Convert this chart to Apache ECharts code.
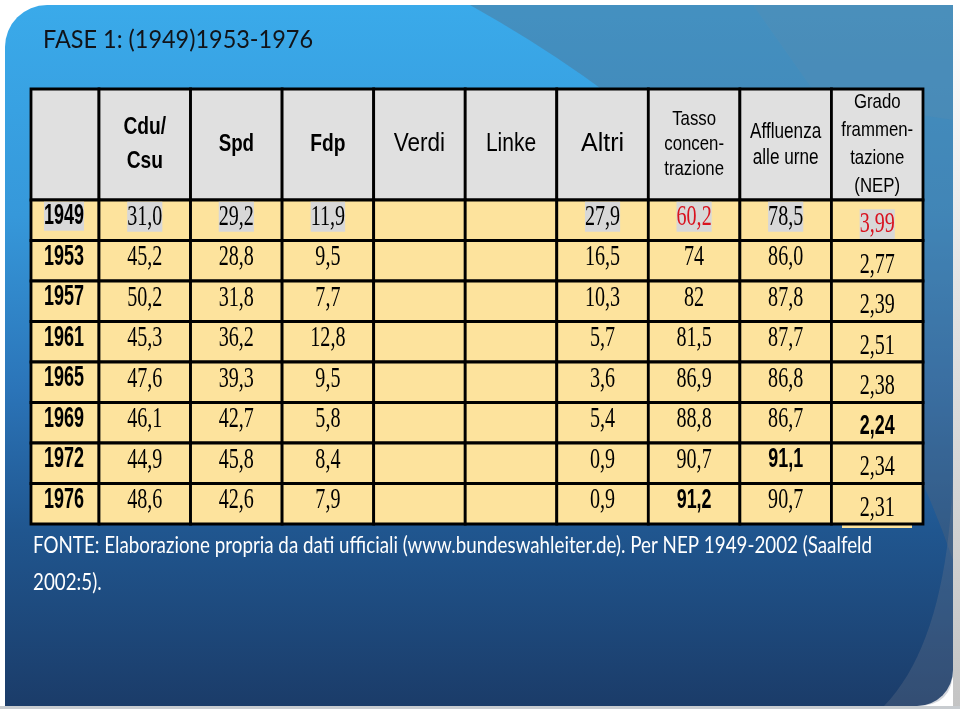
<!DOCTYPE html>
<html>
<head>
<meta charset="utf-8">
<script src="https://cdn.jsdelivr.net/npm/echarts/dist/echarts.min.js"></script>
<style>
html,body{margin:0;padding:0;background:#ffffff;}
#chart{width:960px;height:709px;}
</style>
</head>
<body>
<div id="chart"></div>
<script>
// ---------------- DATA ----------------
const title = 'FASE 1: (1949)1953-1976';
const years = ['1949', '1953', '1957', '1961', '1965', '1969', '1972', '1976'];
const headers = ['Cdu/\nCsu', 'Spd', 'Fdp', 'Verdi', 'Linke', 'Altri',
  'Tasso\nconcen-\ntrazione', 'Affluenza\nalle urne', 'Grado\nframmen-\ntazione\n(NEP)'];
const cduCsu = [31.0, 45.2, 50.2, 45.3, 47.6, 46.1, 44.9, 48.6];
const spd = [29.2, 28.8, 31.8, 36.2, 39.3, 42.7, 45.8, 42.6];
const fdp = [11.9, 9.5, 7.7, 12.8, 9.5, 5.8, 8.4, 7.9];
const verdi = [null, null, null, null, null, null, null, null];
const linke = [null, null, null, null, null, null, null, null];
const altri = [27.9, 16.5, 10.3, 5.7, 3.6, 5.4, 0.9, 0.9];
const tassoConcentrazione = [60.2, 74, 82, 81.5, 86.9, 88.8, 90.7, 91.2];
const affluenzaUrne = [78.5, 86.0, 87.8, 87.7, 86.8, 86.7, 91.1, 90.7];
const nep = [3.99, 2.77, 2.39, 2.51, 2.38, 2.24, 2.34, 2.31];
const footer = 'FONTE: Elaborazione propria da dati ufficiali (www.bundeswahleiter.de). Per NEP 1949-2002 (Saalfeld';
const footer2 = '2002:5).';

// ---------------- FORMATTING / STYLE ----------------
const columnsData = [cduCsu, spd, fdp, verdi, linke, altri, tassoConcentrazione, affluenzaUrne, nep];
const decimals = [1, 1, 1, 1, 1, 1, -1, 1, 2];  // -1: as is
function fmt(v, d) {
  if (v === null || v === undefined) return '';
  const s = d < 0 ? String(v) : v.toFixed(d);
  return s.replace('.', ',');
}
const redCells = ['0-6', '0-8'];
const boldCells = ['5-8', '6-7', '7-6'];
const highlightRow = 0;

const CELL = '#fde39d';
const HEAD = '#e0e0e0';
const LINE = '#000000';
const LW = 2.8;

const headerStyle = [
  {size: 24, lh: 34, sx: 0.8, w: 'bold'},
  {size: 24, lh: 28, sx: 0.78, w: 'bold'},
  {size: 24, lh: 28, sx: 0.8, w: 'bold'},
  {size: 25, lh: 28, sx: 0.9, w: 'normal'},
  {size: 25, lh: 28, sx: 0.84, w: 'normal'},
  {size: 25, lh: 28, sx: 1.0, w: 'normal'},
  {size: 21, lh: 25, sx: 0.8, w: 'normal'},
  {size: 22, lh: 26, sx: 0.78, w: 'normal'},
  {size: 21, lh: 28, sx: 0.8, w: 'normal'}
];

// ---------------- CELLS ----------------
const dataCells = [];
for (let c = 0; c < headers.length; c++) {
  for (let r = 0; r < years.length; r++) {
    dataCells.push({value: [c, r], text: fmt(columnsData[c][r], decimals[c]), r: r, c: c});
  }
}
const yearCells = years.map((y, r) => ({value: [0, r], text: y, r: r}));
const headerCells = headers.map((h, c) => ({value: [c, 0], text: h, c: c}));

function cellRect(p, s, fill) {
  return {type: 'rect', shape: {x: p[0] - s[0] / 2, y: p[1] - s[1] / 2, width: s[0], height: s[1]},
    style: {fill: fill, stroke: LINE, lineWidth: LW}};
}

function renderData(params, api) {
  const cell = dataCells[params.dataIndex];
  const p = api.coord([api.value(0), api.value(1)]);
  const s = api.size([1, 1]);
  const children = [cellRect(p, s, CELL)];
  if (cell.text) {
    const key = cell.r + '-' + cell.c;
    const bold = boldCells.indexOf(key) >= 0;
    const red = redCells.indexOf(key) >= 0;
    const dy = cell.c === 8 ? 4 : -3.5;
    const st = {
      text: cell.text, x: 0, y: 0,
      fill: red ? '#d9121f' : '#000',
      fontFamily: bold ? 'Liberation Sans' : 'Liberation Serif',
      fontWeight: bold ? 'bold' : 'normal',
      fontSize: bold ? 28 : 30,
      align: 'center', verticalAlign: 'middle'
    };
    if (cell.r === highlightRow) { st.backgroundColor = '#d8d8d8'; st.padding = [0, 0, 0, 0]; }
    children.push({type: 'text', x: p[0], y: p[1] + dy, scaleX: bold ? 0.64 : 0.67, style: st});
  }
  return {type: 'group', children: children};
}

function renderYear(params, api) {
  const cell = yearCells[params.dataIndex];
  const p = api.coord([api.value(0), api.value(1)]);
  const s = api.size([1, 1]);
  const st = {text: cell.text, x: 0, y: 0, fill: '#000', fontFamily: 'Liberation Sans', fontWeight: 'bold',
    fontSize: 29, align: 'center', verticalAlign: 'middle'};
  if (cell.r === highlightRow) { st.backgroundColor = '#d8d8d8'; st.padding = [0, 0, 0, 0]; }
  return {type: 'group', children: [cellRect(p, s, CELL),
    {type: 'text', x: p[0] - 1, y: p[1] - 4, scaleX: 0.62, style: st}]};
}

function renderHeader(params, api) {
  const cell = headerCells[params.dataIndex];
  const hs = headerStyle[cell.c];
  const p = api.coord([api.value(0), api.value(1)]);
  const s = api.size([1, 1]);
  return {type: 'group', children: [cellRect(p, s, HEAD),
    {type: 'text', x: p[0], y: p[1], scaleX: hs.sx, style: {text: cell.text, x: 0, y: 0, fill: '#000',
      fontFamily: 'Liberation Sans', fontWeight: hs.w, fontSize: hs.size, lineHeight: hs.lh,
      align: 'center', verticalAlign: 'middle'}}]};
}

function renderCorner(params, api) {
  const p = api.coord([api.value(0), api.value(1)]);
  const s = api.size([1, 1]);
  return cellRect(p, s, HEAD);
}

function fitScale(text, font, target) {
  const ctx = document.createElement('canvas').getContext('2d');
  ctx.font = font;
  return target / ctx.measureText(text).width;
}
const titleFont = '25px Lato';
const footFont = '24px Lato';
const titleSx = fitScale(title, titleFont, 270);
const footSx = fitScale(footer, footFont, 839);

function quadPts(p0, p1, p2, n) {
  const pts = [];
  for (let i = 0; i <= n; i++) {
    const t = i / n;
    pts.push([(1 - t) * (1 - t) * p0[0] + 2 * (1 - t) * t * p1[0] + t * t * p2[0],
      (1 - t) * (1 - t) * p0[1] + 2 * (1 - t) * t * p1[1] + t * t * p2[1]]);
  }
  return pts;
}
const crescent = quadPts([953, 470], [948, 640], [884, 706], 20)
  .concat(quadPts([917, 706], [953, 706], [953, 670], 8));
const steel = [[470, 5], [953, 5], [953, 560]].concat(quadPts([953, 560], [830, 205], [470, 5], 24));

// ---------------- CHART ----------------
const chart = echarts.init(document.getElementById('chart'), null, {renderer: 'canvas'});
const hiddenAxis = {show: false};
const option = {
  animation: false,
  backgroundColor: '#ffffff',
  grid: [
    {left: 31, top: 89, width: 68, height: 111, outerBoundsMode: 'none'},
    {left: 99, top: 89, width: 824, height: 111, outerBoundsMode: 'none'},
    {left: 31, top: 200, width: 68, height: 324, outerBoundsMode: 'none'},
    {left: 99, top: 200, width: 824, height: 324, outerBoundsMode: 'none'}
  ],
  xAxis: [
    Object.assign({type: 'category', gridIndex: 0, data: ['']}, hiddenAxis),
    Object.assign({type: 'category', gridIndex: 1, data: headers}, hiddenAxis),
    Object.assign({type: 'category', gridIndex: 2, data: ['anno']}, hiddenAxis),
    Object.assign({type: 'category', gridIndex: 3, data: headers}, hiddenAxis)
  ],
  yAxis: [
    Object.assign({type: 'category', gridIndex: 0, data: ['h']}, hiddenAxis),
    Object.assign({type: 'category', gridIndex: 1, data: ['h']}, hiddenAxis),
    Object.assign({type: 'category', gridIndex: 2, data: years, inverse: true}, hiddenAxis),
    Object.assign({type: 'category', gridIndex: 3, data: years, inverse: true}, hiddenAxis)
  ],
  graphic: [
    {type: 'rect', z: 0, shape: {x: 953, y: 0, width: 7, height: 709},
      style: {fill: new echarts.graphic.LinearGradient(0, 0, 0, 1, [{offset: 0, color: '#ffffff'}, {offset: 0.4, color: '#e4e4e4'}, {offset: 1, color: '#c4c4c4'}])}},
    {type: 'rect', z: 0, shape: {x: 0, y: 706, width: 960, height: 3}, style: {fill: '#c8ccd0'}},
    {type: 'rect', z: 1, shape: {x: 5, y: 5, width: 948, height: 701, r: [42, 0, 36, 0]},
      style: {fill: new echarts.graphic.LinearGradient(0, 0, 0, 1, [
        {offset: 0, color: '#3aaaea'}, {offset: 0.3, color: '#3698da'}, {offset: 0.55, color: '#2b74b8'},
        {offset: 0.75, color: '#20568f'}, {offset: 1, color: '#1b3c69'}])}},
    {type: 'polygon', z: 2, shape: {points: steel}, style: {fill: 'rgba(85,100,120,0.36)'}},
    {type: 'polygon', z: 2, shape: {points: [[753, 5], [953, 5], [953, 120], [820, 100]]},
      style: {fill: 'rgba(120,140,160,0.12)'}},
    {type: 'polygon', z: 2, shape: {points: crescent}, style: {fill: 'rgba(110,120,140,0.3)'}},
    {type: 'text', z: 5, x: 43, y: 40, scaleX: titleSx,
      style: {text: title, x: 0, y: 0, font: titleFont, fill: '#111318', align: 'left', verticalAlign: 'middle'}},
    {type: 'rect', z: 5, shape: {x: 842, y: 525, width: 70, height: 3}, style: {fill: CELL}},
    {type: 'text', z: 5, x: 33, y: 545, scaleX: footSx,
      style: {text: footer, x: 0, y: 0, font: footFont, fill: '#ffffff', align: 'left', verticalAlign: 'middle'}},
    {type: 'text', z: 5, x: 33, y: 582, scaleX: footSx,
      style: {text: footer2, x: 0, y: 0, font: footFont, fill: '#ffffff', align: 'left', verticalAlign: 'middle'}}
  ],
  series: [
    {type: 'custom', xAxisIndex: 0, yAxisIndex: 0, renderItem: renderCorner, data: [[0, 0]], silent: true, z: 10},
    {type: 'custom', xAxisIndex: 1, yAxisIndex: 1, renderItem: renderHeader, data: headerCells.map(d => d.value), silent: true, z: 10},
    {type: 'custom', xAxisIndex: 2, yAxisIndex: 2, renderItem: renderYear, data: yearCells.map(d => d.value), silent: true, z: 10},
    {type: 'custom', xAxisIndex: 3, yAxisIndex: 3, renderItem: renderData, data: dataCells.map(d => d.value), silent: true, z: 10}
  ]
};
chart.setOption(option);
</script>
</body>
</html>
